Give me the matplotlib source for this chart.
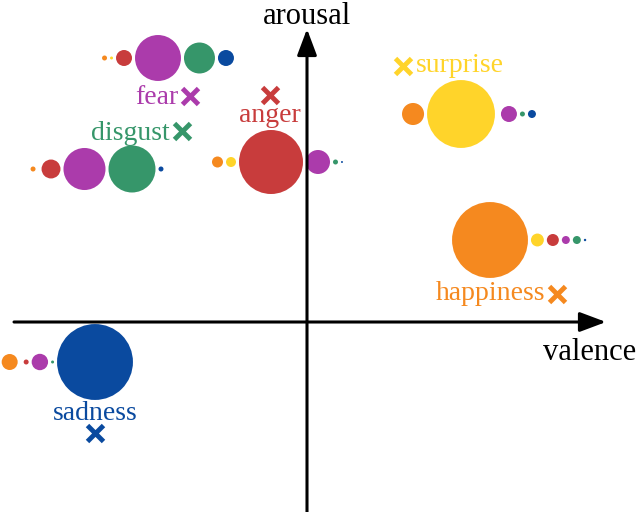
import numpy as np
import matplotlib
matplotlib.use('Agg')
import matplotlib.pyplot as plt
from matplotlib.patches import Circle

plt.rcParams['font.family'] = ['Liberation Serif', 'DejaVu Serif']

# emotions, in the order used for every row of circles
emotions = ['happiness', 'surprise', 'anger', 'fear', 'disgust', 'sadness']
colors = ['#F5891F', '#FFD42A', '#C83C3C', '#AB3BAB', '#36966A', '#0A4A9F']

# target position of each emotion (the x marks), valence / arousal
target_valence = [2.50, 0.96, -0.37, -1.17, -1.25, -2.12]
target_arousal = [0.28, 2.56, 2.27, 2.26, 1.91, -1.11]

# position of the predicted (own) circle of each emotion
pred_valence = [1.83, 1.54, -0.36, -1.49, -1.75, -2.12]
pred_arousal = [0.82, 2.08, 1.60, 2.64, 1.53, -0.40]

# share of each predicted emotion (columns) for each true emotion (rows)
happiness_row = [0.90, 0.026, 0.0225, 0.010, 0.010, 0.0009]
surprise_row = [0.076, 0.72, 0.0, 0.040, 0.0039, 0.010]
anger_row = [0.019, 0.0156, 0.64, 0.090, 0.0039, 0.0006]
fear_row = [0.0039, 0.0014, 0.040, 0.33, 0.15, 0.040]
disgust_row = [0.0039, 0.0, 0.056, 0.276, 0.345, 0.0039]
sadness_row = [0.040, 0.0, 0.0039, 0.042, 0.0014, 0.90]
rows = [happiness_row, surprise_row, anger_row, fear_row, disgust_row, sadness_row]

# label offset from the x mark (pixels) and alignment
label_pos = {
    'happiness': (-12, 0, 'right', 'center'),
    'surprise': (13, 0, 'left', 'center'),
    'anger': (0, -20, 'center', 'center'),
    'fear': (-12, -2, 'right', 'center'),
    'disgust': (-12, -2, 'right', 'center'),
    'sadness': (0, 20, 'center', 'center'),
}

fig = plt.figure(figsize=(6.4, 5.12), dpi=100)
ax = fig.add_axes([0, 0, 1, 1])
ax.set_xlim(-3.07, 3.33)
ax.set_ylim(-1.90, 3.22)
ax.set_aspect('equal')
ax.axis('off')

scale = 0.40
gap = 0.03
for i, row in enumerate(rows):
    r = scale * np.sqrt(np.array(row))
    centers = np.zeros(len(r))
    x = 0.0
    for j in range(len(r)):
        if j > 0:
            x += r[j - 1] + gap + r[j]
        centers[j] = x
    centers = centers - centers[i] + pred_valence[i]
    for j in range(len(r)):
        if r[j] > 0:
            ax.add_patch(Circle((centers[j], pred_arousal[i]), r[j],
                                color=colors[j], lw=0, zorder=2))

for i, name in enumerate(emotions):
    ax.plot(target_valence[i], target_arousal[i], marker='x', color=colors[i],
            ms=11, mew=3.5, zorder=3)
    dx, dy, ha, va = label_pos[name]
    ax.annotate(name, (target_valence[i], target_arousal[i]),
                xytext=(dx, dy), textcoords='offset pixels',
                ha=ha, va=va, color=colors[i], fontsize=20, zorder=3)

# axes arrows
arrow = dict(arrowstyle='-|>,head_length=0.8,head_width=0.3', lw=2.2,
             color='black', shrinkA=0, shrinkB=0, mutation_scale=20)
ax.annotate('', xy=(2.99, 0), xytext=(-2.93, 0), arrowprops=arrow, zorder=4)
ax.annotate('', xy=(0, 2.93), xytext=(0, -1.95), arrowprops=arrow, zorder=4)

ax.text(0, 3.06, 'arousal', ha='center', va='center', fontsize=22)
ax.text(2.36, -0.30, 'valence', ha='left', va='center', fontsize=22)

fig.savefig('out.png', dpi=100)
